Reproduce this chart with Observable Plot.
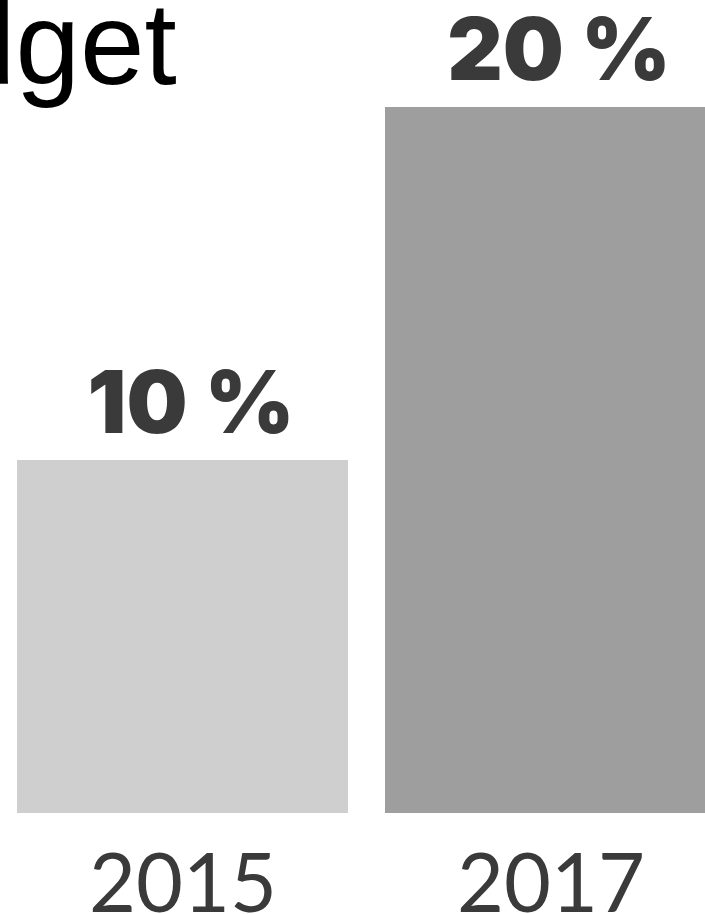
<!DOCTYPE html>
<html><head><meta charset="utf-8">
<script src="https://cdn.jsdelivr.net/npm/d3@7"></script>
<script src="https://cdn.jsdelivr.net/npm/@observablehq/plot@0.6"></script>
<style>
html,body{margin:0;padding:0;background:#fff;overflow:hidden;width:705px;height:914px;}
#wrap{position:relative;width:705px;height:914px;overflow:hidden;}
#chart{position:absolute;left:0;top:0;}
#title{position:absolute;left:-178px;top:-14px;font-family:"Liberation Sans",Arial,sans-serif;font-size:116px;line-height:1;color:#000;white-space:nowrap;}
</style></head><body>
<div id="wrap"><div id="chart"></div><div id="title"></div></div>
<script>
const titleText = "budget";
const years = ["2015", "2017"];
const shares = [10, 20];
const valueLabels = ["10 %", "20 %"];

const data = years.map((y, i) => ({year: y, share: shares[i], label: valueLabels[i]}));

document.getElementById("title").textContent = titleText;

const chart = Plot.plot({
  width: 705,
  height: 914,
  marginLeft: 16,
  marginRight: -12,
  marginTop: 107,
  marginBottom: 101,
  style: {background: "#fff", maxWidth: "none", overflow: "hidden"},
  x: {type: "band", domain: years, paddingInner: 0.1, paddingOuter: 0, axis: null},
  y: {domain: [0, 20], axis: null},
  color: {type: "ordinal", domain: years, range: ["#cfcfcf", "#9e9e9e"]},
  marks: [
    Plot.barY(data, {x: "year", y: "share", fill: "year"}),
    Plot.text(data, {x: "year", y: "share", text: "label", lineAnchor: "bottom", dy: -28, dx: 8,
      fontSize: 86, fontWeight: 900, fontFamily: "Inter", fill: "#3a3a3a"}),
    Plot.text(data, {x: "year", y: 0, text: "year", lineAnchor: "bottom", dy: 98,
      fontSize: 81, fontWeight: 400, fontFamily: "Lato", fill: "#3a3a3a"})
  ]
});
document.getElementById("chart").appendChild(chart);
</script>
</body></html>
